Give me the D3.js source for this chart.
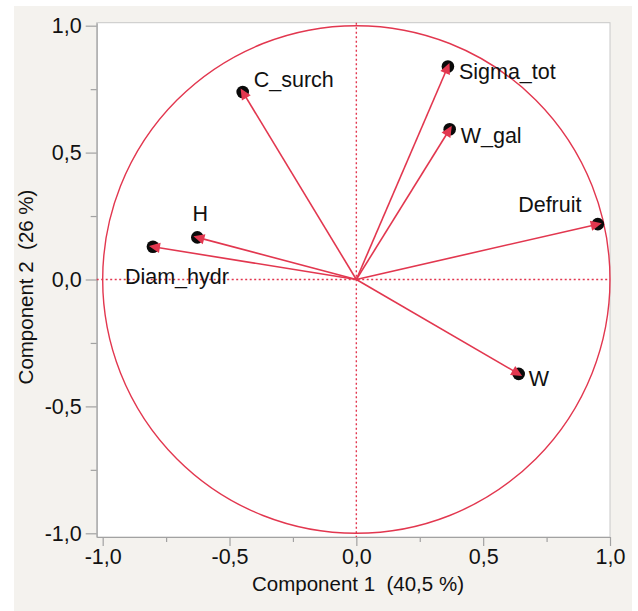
<!DOCTYPE html>
<html>
<head>
<meta charset="utf-8">
<script src="https://cdn.jsdelivr.net/npm/d3@7"></script>
<style>
  html, body { margin: 0; padding: 0; background: #ffffff; }
  svg { display: block; font-family: "Liberation Sans", Arial, Helvetica, sans-serif; }
  text { white-space: pre; }
</style>
</head>
<body>
<svg id="chart" width="638" height="611"></svg>
<script>
// Loadings of each variable on the first two principal components
const variables = ["C_surch", "Sigma_tot", "W_gal", "Defruit", "H", "Diam_hydr", "W"];
const comp1 = [-0.448, 0.361, 0.368, 0.952, -0.627, -0.802, 0.640];
const comp2 = [0.739, 0.839, 0.592, 0.218, 0.166, 0.129, -0.372];

const majorTicks = [-1.0, -0.5, 0.0, 0.5, 1.0];
const minorTicks = [-0.75, -0.25, 0.25, 0.75];
const xTitle = "Component 1  (40,5 %)";
const yTitle = "Component 2  (26 %)";

const RED = "#e2374f";
const GRAY = "#a2a2a2";

const svg = d3.select("#chart");

// panel background
svg.append("rect").attr("x", 14).attr("y", 6).attr("width", 618).attr("height", 605)
  .attr("fill", "#f4f2ee");

const plot = { left: 96.7, right: 610, top: 22.7, bottom: 537 };
const x = d3.scaleLinear().domain([-1.0236, 1.0]).range([plot.left, plot.right]);
const y = d3.scaleLinear().domain([-1.0146, 1.0118]).range([plot.bottom, plot.top]);

const fmt = v => d3.format(".1f")(v).replace(".", ",").replace("−", "-");

// plot area
svg.append("rect")
  .attr("x", plot.left).attr("y", plot.top)
  .attr("width", plot.right - plot.left).attr("height", plot.bottom - plot.top)
  .attr("fill", "#ffffff").attr("stroke", "#c8c8c8").attr("stroke-width", 1);

// axes
function styleAxis(g) {
  g.select(".domain").attr("stroke", GRAY).attr("stroke-width", 1.2);
  g.selectAll(".tick line").attr("stroke", GRAY).attr("stroke-width", 1.2);
  g.selectAll(".tick text").attr("fill", "#111").attr("font-size", 21.5);
}

const xAxis = svg.append("g").attr("transform", `translate(0,${plot.bottom})`)
  .call(d3.axisBottom(x).tickValues(majorTicks).tickFormat(fmt).tickSize(9).tickPadding(3).tickSizeOuter(0));
styleAxis(xAxis);
const xMinor = svg.append("g").attr("transform", `translate(0,${plot.bottom})`)
  .call(d3.axisBottom(x).tickValues(minorTicks).tickFormat("").tickSize(5).tickSizeOuter(0));
styleAxis(xMinor);
xMinor.select(".domain").remove();

const yAxis = svg.append("g").attr("transform", `translate(${plot.left},0)`)
  .call(d3.axisLeft(y).tickValues(majorTicks).tickFormat(fmt).tickSize(11).tickPadding(4).tickSizeOuter(0));
styleAxis(yAxis);
const yMinor = svg.append("g").attr("transform", `translate(${plot.left},0)`)
  .call(d3.axisLeft(y).tickValues(minorTicks).tickFormat("").tickSize(6).tickSizeOuter(0));
styleAxis(yMinor);
yMinor.select(".domain").remove();

// axis titles
svg.append("text").attr("x", 358).attr("y", 591).attr("text-anchor", "middle")
  .attr("font-size", 20.5).attr("fill", "#111").text(xTitle);
svg.append("text").attr("transform", `translate(33,287) rotate(-90)`).attr("text-anchor", "middle")
  .attr("font-size", 20.5).attr("fill", "#111").text(yTitle);

// reference lines through the origin
const ref = svg.append("g").attr("stroke", RED).attr("stroke-width", 1.4)
  .attr("stroke-dasharray", "2,2.5");
ref.append("line").attr("x1", x(0)).attr("x2", x(0)).attr("y1", plot.top).attr("y2", plot.bottom);
ref.append("line").attr("x1", plot.left).attr("x2", plot.right).attr("y1", y(0)).attr("y2", y(0));

// unit correlation circle
svg.append("ellipse").attr("cx", x(0)).attr("cy", y(0))
  .attr("rx", x(1) - x(0)).attr("ry", y(0) - y(1))
  .attr("fill", "none").attr("stroke", RED).attr("stroke-width", 1.4);

// loading vectors
const data = variables.map((name, i) => ({ name, c1: comp1[i], c2: comp2[i] }));

const vec = svg.append("g");
vec.selectAll("line").data(data).join("line")
  .attr("x1", x(0)).attr("y1", y(0))
  .attr("x2", d => x(d.c1)).attr("y2", d => y(d.c2))
  .attr("stroke", RED).attr("stroke-width", 1.6);

// point markers: black dot with arrowhead
vec.selectAll("circle").data(data).join("circle")
  .attr("cx", d => x(d.c1)).attr("cy", d => y(d.c2)).attr("r", 6.3)
  .attr("fill", "#0a0a0a");

vec.selectAll("path.head").data(data).join("path").attr("class", "head")
  .attr("d", d => {
    const px = x(d.c1), py = y(d.c2);
    const dx = px - x(0), dy = py - y(0);
    const len = Math.hypot(dx, dy);
    const ux = dx / len, uy = dy / len;
    const tipX = px + ux * 4, tipY = py + uy * 4;
    const bx = px - ux * 7, by = py - uy * 7;
    const w = 5.2;
    return `M${tipX},${tipY}L${bx - uy * w},${by + ux * w}L${bx + uy * w},${by - ux * w}Z`;
  })
  .attr("fill", RED);

// variable labels
const labelPos = {
  "C_surch":   { dx: 11, dy: -12, anchor: "start" },
  "Sigma_tot": { dx: 11, dy: 5, anchor: "start" },
  "W_gal":     { dx: 11, dy: 6, anchor: "start" },
  "Defruit":   { dx: -48, dy: -20, anchor: "middle" },
  "H":         { dx: 3, dy: -24, anchor: "middle" },
  "Diam_hydr": { dx: 24, dy: 30, anchor: "middle" },
  "W":         { dx: 10, dy: 5, anchor: "start" }
};
svg.append("g").selectAll("text").data(data).join("text")
  .attr("x", d => x(d.c1) + labelPos[d.name].dx)
  .attr("y", d => y(d.c2) + labelPos[d.name].dy)
  .attr("dy", "0.35em")
  .attr("text-anchor", d => labelPos[d.name].anchor)
  .attr("font-size", 21.5).attr("fill", "#111")
  .text(d => d.name);
</script>
</body>
</html>
